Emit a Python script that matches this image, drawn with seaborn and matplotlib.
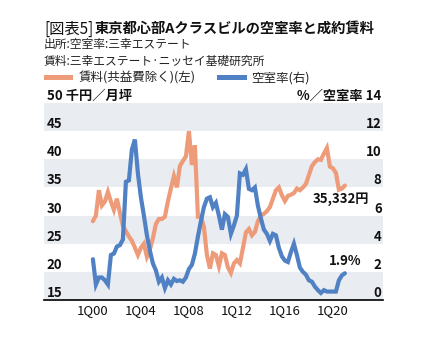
import matplotlib
matplotlib.use("Agg")
import matplotlib.pyplot as plt
import seaborn as sns
import pandas as pd
import numpy as np

sns.set_theme(style="white")
plt.rcParams['font.family'] = ['Noto Sans CJK JP', 'DejaVu Sans']

# Quarterly series, 1Q00 .. 1Q21
quarter_idx = list(range(85))
rent = [29.0, 30.0, 34.5, 31.8, 32.5, 34.2, 32.5, 31.0, 33.0, 30.5,
        28.2, 27.2, 26.3, 25.5, 24.3, 23.0, 24.3, 25.0, 22.7, 24.0,
        26.0, 28.5, 29.4, 29.4, 29.8, 32.5, 34.8, 37.0, 35.0, 38.8,
        39.7, 40.5, 45.0, 39.0, 42.5, 29.8, 29.8, 28.0, 23.0, 20.6,
        23.3, 23.0, 21.0, 23.3, 23.0, 20.8, 19.8, 21.5, 22.1, 21.5,
        24.2, 27.0, 27.6, 26.5, 27.1, 29.0, 30.0, 30.3, 30.8, 31.5,
        33.0, 34.5, 35.0, 33.6, 32.6, 33.5, 33.7, 34.0, 34.8, 34.5,
        35.0, 35.6, 37.2, 38.8, 39.5, 40.0, 39.9, 41.0, 42.0, 38.7,
        38.4, 37.6, 34.6, 34.8, 35.332]
vacancy = [2.9, 1.1, 1.6, 1.6, 1.4, 1.1, 3.2, 3.3, 3.8, 3.9,
           4.3, 8.4, 8.5, 10.7, 11.4, 9.0, 7.3, 6.0, 4.6, 3.5,
           2.6, 2.1, 1.3, 1.6, 0.85, 1.4, 1.1, 1.5, 1.35, 1.4,
           1.3, 1.6, 2.2, 2.5, 3.3, 4.5, 5.6, 6.6, 7.2, 7.3,
           6.6, 6.9, 6.0, 5.0, 6.1, 5.9, 4.7, 5.3, 6.0, 9.0,
           8.9, 9.3, 7.9, 7.8, 8.0, 6.7, 5.8, 5.0, 4.7, 4.2,
           4.7, 4.6, 3.7, 3.1, 2.8, 2.7, 3.4, 4.0, 3.2, 2.3,
           2.0, 1.8, 1.4, 1.3, 0.95, 0.7, 0.5, 0.7, 0.6, 0.6,
           0.6, 0.6, 1.4, 1.75, 1.9]

x_tick_pos = [0, 16, 32, 48, 64, 80]
x_tick_labels = ["1Q00", "1Q04", "1Q08", "1Q12", "1Q16", "1Q20"]
left_ticks = [15, 20, 25, 30, 35, 40, 45, 50]
left_labels = ["15", "20", "25", "30", "35", "40", "45", "50 千円／月坪"]
right_ticks = [0, 2, 4, 6, 8, 10, 12, 14]
right_labels = ["0", "2", "4", "6", "8", "10", "12", "%／空室率 14"]

rent_color = "#ee9b7a"
vac_color = "#4f81c4"
band_color = "#e9ecf0"

df = pd.DataFrame({"q": quarter_idx, "rent": rent, "vacancy": vacancy})

W, H = 431, 341
fig = plt.figure(figsize=(W / 100, H / 100), dpi=100)
ax = fig.add_axes([44 / W, (H - 300) / H, (383 - 44) / W, (300 - 103) / H])

for lo in (15, 25, 35, 45):
    ax.axhspan(lo, lo + 5, color=band_color, lw=0, zorder=0)

sns.lineplot(data=df, x="q", y="rent", ax=ax, color=rent_color, lw=3,
             solid_joinstyle="miter", zorder=3)
ax.set_ylim(15, 50)
ax.set_xlim(-16.3, 96.7)

ax2 = ax.twinx()
sns.lineplot(data=df, x="q", y="vacancy", ax=ax2, color=vac_color, lw=3,
             solid_joinstyle="miter", zorder=3)
ax2.set_ylim(0, 14)

for a in (ax, ax2):
    a.set_xlabel("")
    a.set_ylabel("")
    for s in a.spines.values():
        s.set_visible(False)
ax.spines["bottom"].set_visible(True)
ax.spines["bottom"].set_color("black")
ax.spines["bottom"].set_linewidth(1.2)

ax.set_xticks(x_tick_pos)
ax.set_xticklabels(x_tick_labels, fontsize=9.5, color="#111111")
ax.tick_params(axis="x", length=0, pad=3)

ax.set_yticks(left_ticks)
ax.set_yticklabels(left_labels, fontsize=9.5, fontweight="bold", color="#111111")
ax.tick_params(axis="y", length=0, pad=-2)
for t in ax.get_yticklabels():
    t.set_horizontalalignment("left")
    t.set_verticalalignment("bottom")
    t.set_zorder(5)

ax2.set_yticks(right_ticks)
ax2.set_yticklabels(right_labels, fontsize=9.5, fontweight="bold", color="#111111")
ax2.tick_params(axis="y", length=0, pad=-1)
for t in ax2.get_yticklabels():
    t.set_horizontalalignment("right")
    t.set_verticalalignment("bottom")

# value annotations at the last quarter
ax.text(quarter_idx[-1] + 8, rent[-1] - 1.2, f"{rent[-1]*1000:,.0f}円", ha="right", va="top",
        fontsize=9.5, fontweight="bold", color="#111111")
ax2.text(quarter_idx[-1] + 5.5, vacancy[-1] + 0.35, f"{vacancy[-1]:.1f}%", ha="right", va="bottom",
         fontsize=9.5, fontweight="bold", color="#111111")

# header
fig.text(44 / W, 1 - 29 / H, "[図表5]", fontsize=11, fontweight="normal", color="#111111",
         va="center", ha="left")
fig.text(95 / W, 1 - 29 / H, "東京都心部Aクラスビルの空室率と成約賃料", fontsize=10.3,
         fontweight="bold", color="#111111", va="center", ha="left")
fig.text(44 / W, 1 - 44 / H, "出所:空室率:三幸エステート", fontsize=8.5, color="#222222",
         va="center", ha="left")
fig.text(44 / W, 1 - 61 / H, "賃料:三幸エステート·ニッセイ基礎研究所", fontsize=8.5, color="#222222",
         va="center", ha="left")

# legend
fig.patches.append(plt.Rectangle((44 / W, 1 - 80 / H), 29 / W, 5 / H, transform=fig.transFigure,
                                 color=rent_color, lw=0))
fig.text(79 / W, 1 - 78 / H, "賃料(共益費除く)(左)", fontsize=9, color="#222222",
         va="center", ha="left")
fig.patches.append(plt.Rectangle((217 / W, 1 - 80 / H), 30 / W, 5 / H, transform=fig.transFigure,
                                 color=vac_color, lw=0))
fig.text(251 / W, 1 - 78 / H, "空室率(右)", fontsize=9, color="#222222",
         va="center", ha="left")

fig.savefig("out.png", dpi=100, facecolor="white")
